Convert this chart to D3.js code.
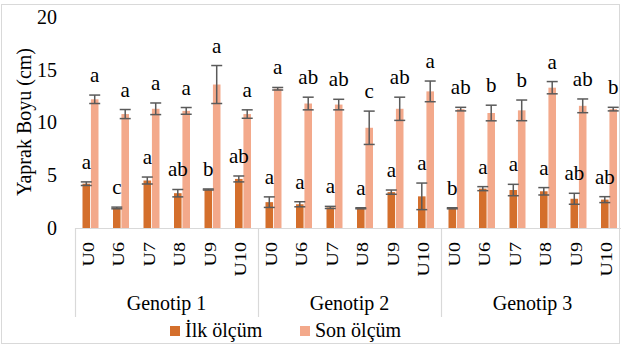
<!DOCTYPE html>
<html>
<head>
<meta charset="utf-8">
<script src="https://cdn.jsdelivr.net/npm/d3@7"></script>
<style>
  body { margin: 0; background: #fff; }
</style>
</head>
<body>
<div id="chart"></div>
<script>
// data
const genotypes = ['Genotip 1', 'Genotip 2', 'Genotip 3'];
const treatments = ['U0', 'U6', 'U7', 'U8', 'U9', 'U10'];
const seriesNames = ['İlk ölçüm', 'Son ölçüm'];

const ilk = [4.2, 1.9, 4.5, 3.3, 3.65, 4.65,
             2.45, 2.25, 1.95, 1.87, 3.4, 3.0,
             1.87, 3.73, 3.6, 3.48, 2.77, 2.69];
const ilkErr = [0.17, 0.08, 0.33, 0.35, 0.05, 0.28,
                0.5, 0.24, 0.1, 0.05, 0.2, 1.26,
                0.05, 0.19, 0.54, 0.35, 0.52, 0.28];
const son = [12.2, 10.8, 11.3, 11.1, 13.6, 10.8,
             13.2, 11.8, 11.7, 9.5, 11.3, 12.95,
             11.27, 10.9, 11.15, 13.3, 11.58, 11.27];
const sonErr = [0.4, 0.43, 0.55, 0.32, 1.8, 0.4,
                0.12, 0.6, 0.5, 1.58, 1.1, 0.98,
                0.17, 0.74, 0.98, 0.58, 0.65, 0.17];
const ilkLetters = ['a', 'c', 'a', 'ab', 'b', 'ab',
                    'a', 'a', 'a', 'a', 'a', 'a',
                    'b', 'a', 'a', 'a', 'ab', 'ab'];
const sonLetters = ['a', 'a', 'a', 'a', 'a', 'a',
                    'a', 'ab', 'ab', 'c', 'ab', 'a',
                    'ab', 'b', 'b', 'a', 'ab', 'b'];
const yTicks = [0, 5, 10, 15, 20];

const width = 621, height = 345;
const colors = ['#D46F2C', '#F3A98B'];
const serif = '"Liberation Serif", "Times New Roman", serif';

const svg = d3.select('#chart').append('svg')
  .attr('width', width)
  .attr('height', height)
  .style('font-family', serif);

// chart border
svg.append('rect')
  .attr('x', 1.5).attr('y', 4.5)
  .attr('width', width - 3).attr('height', height - 6)
  .attr('fill', 'none').attr('stroke', '#d9d9d9');

// one key per bar pair
const keys = [];
genotypes.forEach(g => treatments.forEach(t => keys.push(g + '|' + t)));

const rows = keys.map((k, i) => ({
  key: k,
  values: [
    { s: 0, v: ilk[i], e: ilkErr[i], l: ilkLetters[i] },
    { s: 1, v: son[i], e: sonErr[i], l: sonLetters[i] }
  ]
}));

const x0 = d3.scaleBand().domain(keys).range([75, 624]);
const x1 = d3.scaleBand().domain([0, 1]).range([7.5, 23.5]).paddingInner(0.1);
const y = d3.scaleLinear().domain([0, 20]).range([228, 17]);

// y axis labels, no line, no ticks
const yAxis = svg.append('g')
  .attr('transform', 'translate(57,0)')
  .call(d3.axisLeft(y).tickValues(yTicks).tickSize(0).tickPadding(0));
yAxis.attr('font-family', null).attr('font-size', null);
yAxis.select('.domain').remove();
yAxis.selectAll('text')
  .style('font-family', serif)
  .style('font-size', '20px')
  .attr('fill', '#000');

svg.append('text')
  .attr('transform', 'translate(31,122) rotate(-90)')
  .attr('text-anchor', 'middle')
  .style('font-family', serif)
  .style('font-size', '20px')
  .text('Yaprak Boyu (cm)');

// category axis line and group separators
svg.append('line')
  .attr('x1', 75).attr('x2', 624)
  .attr('y1', y(0) + 0.5).attr('y2', y(0) + 0.5)
  .attr('stroke', '#d9d9d9').attr('stroke-width', 1.2);

const groupEdges = genotypes.map(g => x0(g + '|' + treatments[0])).concat([624]);
svg.selectAll('.sep').data(groupEdges).join('line')
  .attr('class', 'sep')
  .attr('x1', d => d + 0.5).attr('x2', d => d + 0.5)
  .attr('y1', y(0)).attr('y2', 317)
  .attr('stroke', '#d9d9d9').attr('stroke-width', 1.2);

// treatment labels (rotated)
svg.selectAll('.tlab').data(keys).join('text')
  .attr('class', 'tlab')
  .attr('transform', d => `translate(${x0(d) + x0.bandwidth() / 2 + 3.5},242) rotate(-90) scale(1,0.8)`)
  .attr('text-anchor', 'end')
  .style('font-family', serif)
  .style('font-size', '20px')
  .text(d => d.split('|')[1]);

// genotype labels
svg.selectAll('.glab').data(genotypes).join('text')
  .attr('class', 'glab')
  .attr('x', (g, i) => (groupEdges[i] + groupEdges[i + 1]) / 2)
  .attr('y', 310)
  .attr('text-anchor', 'middle')
  .style('font-family', serif)
  .style('font-size', '20px')
  .text(g => g);

// bars
const pairs = svg.append('g').selectAll('g').data(rows).join('g')
  .attr('transform', d => `translate(${x0(d.key)},0)`);

pairs.selectAll('rect').data(d => d.values).join('rect')
  .attr('x', d => x1(d.s))
  .attr('y', d => y(d.v))
  .attr('width', x1.bandwidth())
  .attr('height', d => y(0) - y(d.v))
  .attr('fill', d => colors[d.s]);

// error bars
const err = pairs.selectAll('g.err').data(d => d.values).join('g')
  .attr('class', 'err')
  .attr('transform', d => `translate(${x1(d.s) + x1.bandwidth() / 2},0)`);

err.append('line')
  .attr('x1', 0).attr('x2', 0)
  .attr('y1', d => y(d.v + d.e)).attr('y2', d => y(d.v - d.e))
  .attr('stroke', '#5a5a5a').attr('stroke-width', 1.5);
err.selectAll('line.cap').data(d => [d.v + d.e, d.v - d.e]).join('line')
  .attr('class', 'cap')
  .attr('x1', -5.5).attr('x2', 5.5)
  .attr('y1', d => y(d)).attr('y2', d => y(d))
  .attr('stroke', '#5a5a5a').attr('stroke-width', 1.5);

// significance letters
err.append('text')
  .attr('x', 0)
  .attr('y', d => y(d.v + d.e) - 13)
  .attr('text-anchor', 'middle')
  .style('font-family', serif)
  .style('font-size', '21px')
  .text(d => d.l);

// legend
const legend = svg.append('g').selectAll('g').data(seriesNames).join('g')
  .attr('transform', (d, i) => `translate(${170 + i * 130},0)`);
legend.append('rect')
  .attr('x', 0).attr('y', 326)
  .attr('width', 10).attr('height', 10)
  .attr('fill', (d, i) => colors[i]);
legend.append('text')
  .attr('x', 15).attr('y', 337)
  .style('font-family', serif)
  .style('font-size', '20px')
  .text(d => d);
</script>
</body>
</html>
